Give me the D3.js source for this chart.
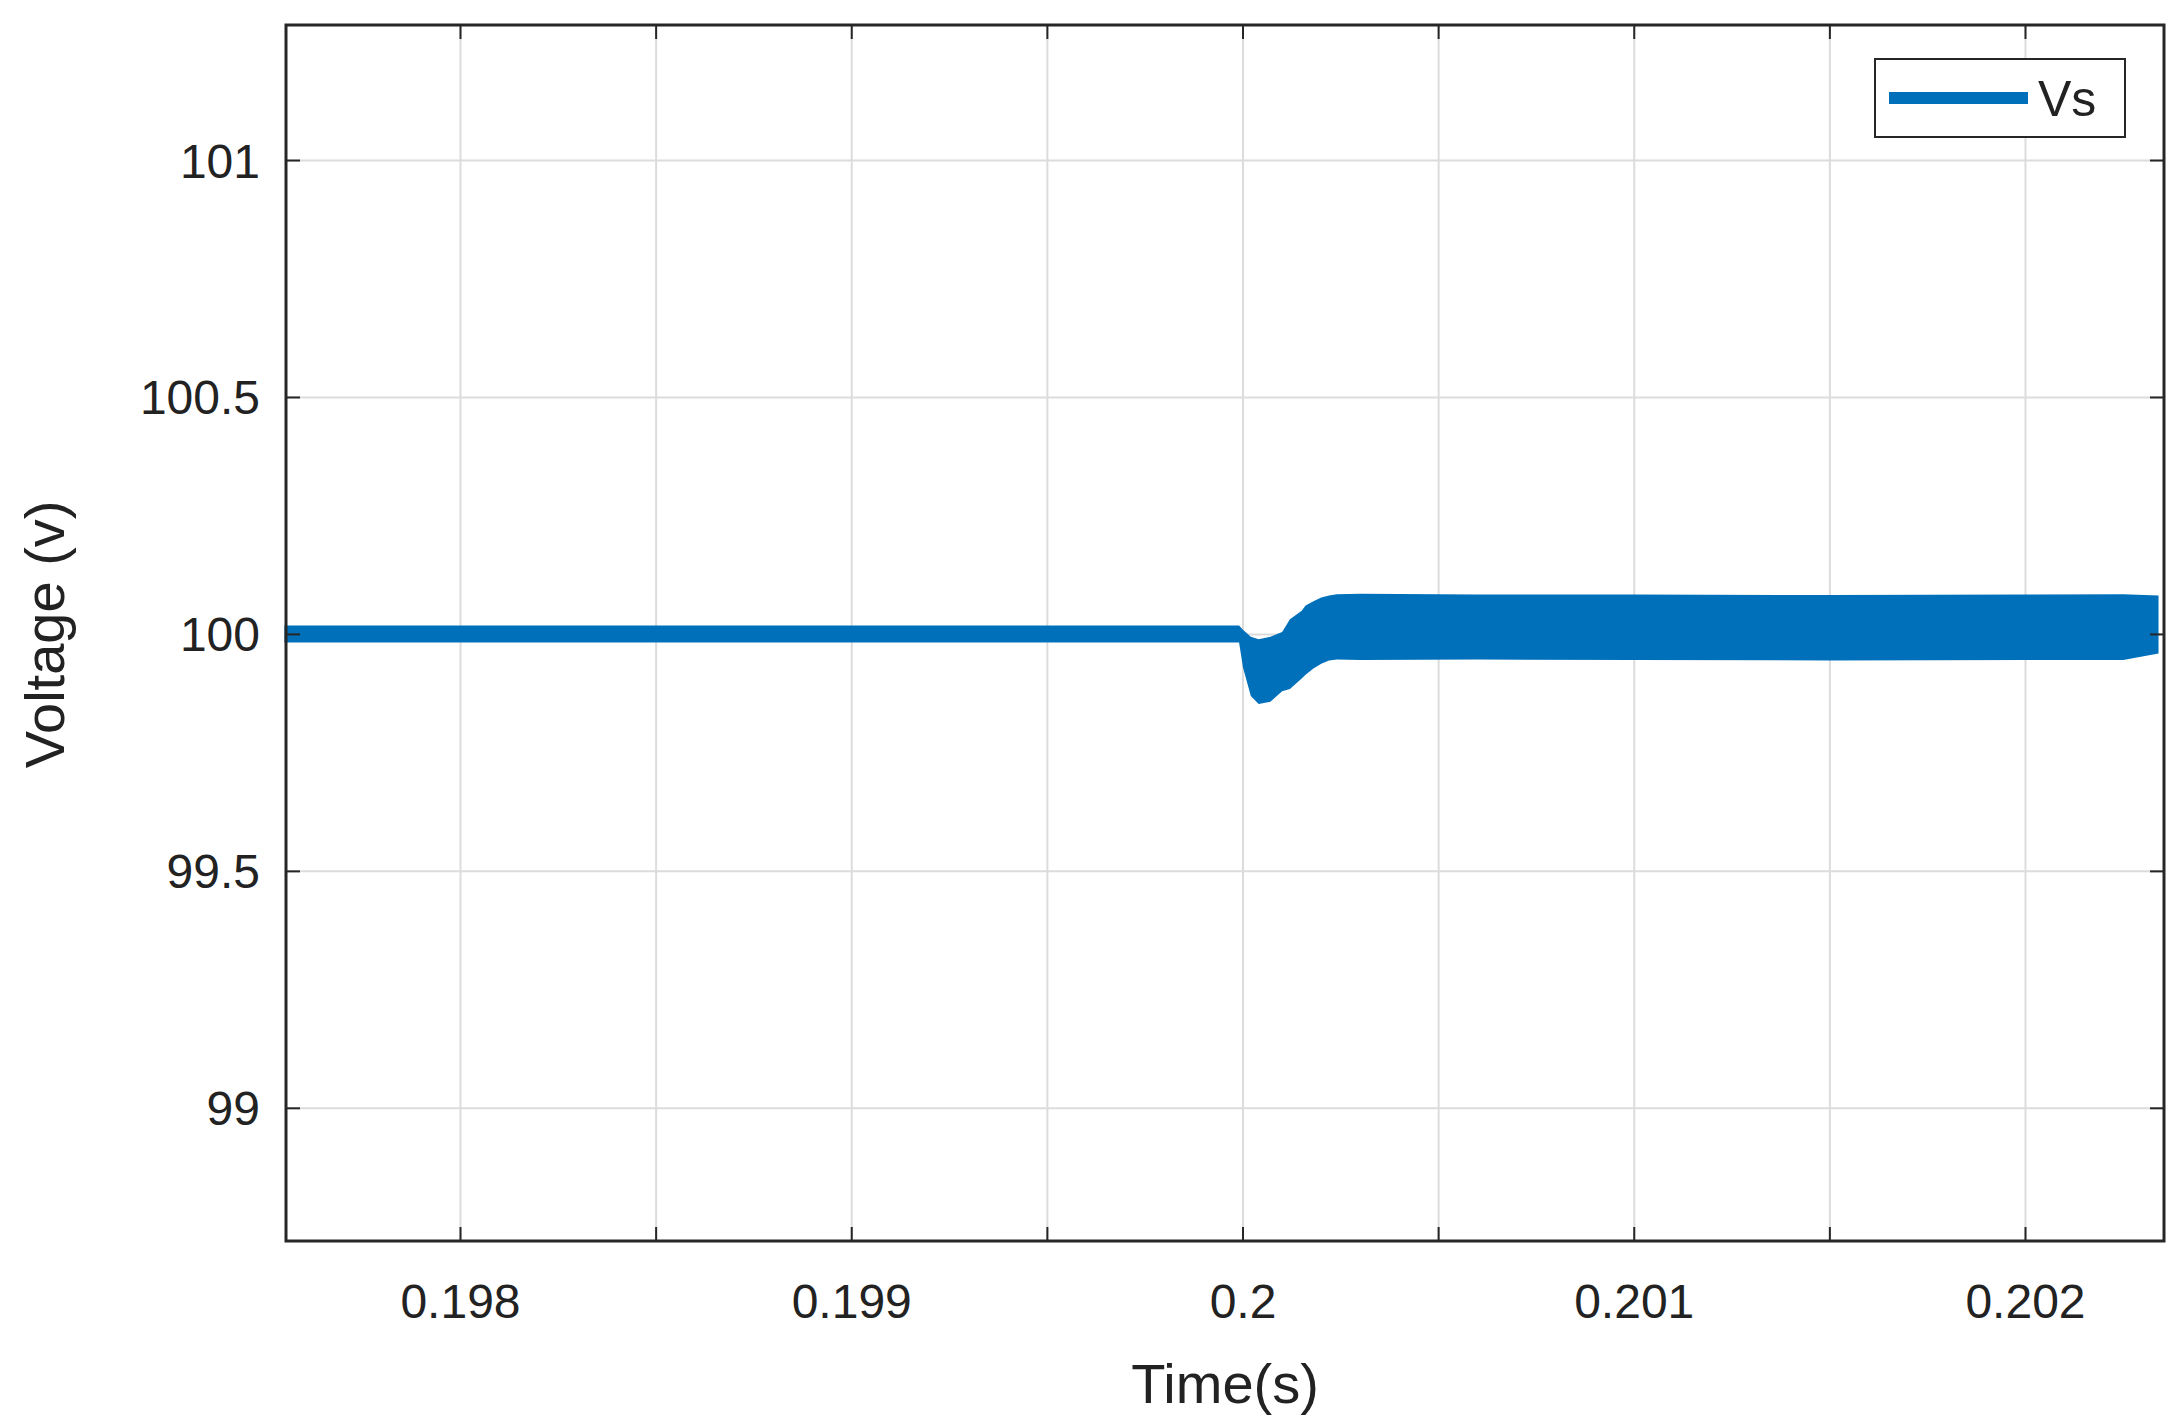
<!DOCTYPE html>
<html>
<head>
<meta charset="utf-8">
<script src="https://cdn.jsdelivr.net/npm/d3@7"></script>
<style>
  body { margin: 0; background: #fff; }
  text { font-family: "Liberation Sans", Arial, sans-serif; fill: #222; }
</style>
</head>
<body>
<svg id="chart" width="2180" height="1427"></svg>
<script>
// envelope of the Vs ripple band (time s, upper / lower edge in V)
const envTime  = [0.19755, 0.19999, 0.20000, 0.20002, 0.20004, 0.20007, 0.20010, 0.20012, 0.20015, 0.20016, 0.20018, 0.20020, 0.20022, 0.20024, 0.20030, 0.20060, 0.20100, 0.20150, 0.20200, 0.20225, 0.20234];
const envUpper = [100.019, 100.019, 100.010, 99.995, 99.990, 99.995, 100.005, 100.032, 100.050, 100.061, 100.070, 100.078, 100.082, 100.085, 100.086, 100.084, 100.084, 100.083, 100.084, 100.085, 100.082];
const envLower = [99.983, 99.983, 99.930, 99.870, 99.853, 99.858, 99.880, 99.885, 99.907, 99.915, 99.928, 99.938, 99.945, 99.947, 99.946, 99.947, 99.946, 99.945, 99.946, 99.946, 99.960];

const xTicks = [0.198, 0.199, 0.2, 0.201, 0.202];
const xGrid = [0.1975, 0.198, 0.1985, 0.199, 0.1995, 0.2, 0.2005, 0.201, 0.2015, 0.202];
const yTicks = [99, 99.5, 100, 100.5, 101];

const svg = d3.select('#chart');
const mLeft = 286, mRight = 2164, mTop = 25, mBottom = 1241;

const x = d3.scaleLinear().domain([0.197554, 0.202354]).range([mLeft, mRight]);
const y = d3.scaleLinear().domain([98.72, 101.286]).range([mBottom, mTop]);

// grid
svg.append('g').selectAll('line').data(xGrid.filter(d => x(d) > mLeft)).enter().append('line')
  .attr('x1', d => x(d)).attr('x2', d => x(d)).attr('y1', mTop).attr('y2', mBottom)
  .attr('stroke', '#dcdcdc').attr('stroke-width', 2);
svg.append('g').selectAll('line').data(yTicks).enter().append('line')
  .attr('x1', mLeft).attr('x2', mRight).attr('y1', d => y(d)).attr('y2', d => y(d))
  .attr('stroke', '#dcdcdc').attr('stroke-width', 2);

// signal band
const area = d3.area()
  .x((d, i) => x(envTime[i]))
  .y0((d, i) => y(envLower[i]))
  .y1((d, i) => y(envUpper[i]));
svg.append('path').datum(envTime).attr('d', area).attr('fill', '#0070bb');

// ticks inside the box on all four sides
const tl = 14;
xGrid.filter(d => x(d) > mLeft).forEach(d => {
  svg.append('line').attr('x1', x(d)).attr('x2', x(d)).attr('y1', mBottom).attr('y2', mBottom - tl).attr('stroke', '#262626').attr('stroke-width', 2);
  svg.append('line').attr('x1', x(d)).attr('x2', x(d)).attr('y1', mTop).attr('y2', mTop + tl).attr('stroke', '#262626').attr('stroke-width', 2);
});
yTicks.forEach(d => {
  svg.append('line').attr('x1', mLeft).attr('x2', mLeft + tl).attr('y1', y(d)).attr('y2', y(d)).attr('stroke', '#262626').attr('stroke-width', 2);
  svg.append('line').attr('x1', mRight).attr('x2', mRight - tl).attr('y1', y(d)).attr('y2', y(d)).attr('stroke', '#262626').attr('stroke-width', 2);
});

svg.append('rect').attr('x', mLeft).attr('y', mTop).attr('width', mRight - mLeft).attr('height', mBottom - mTop)
  .attr('fill', 'none').attr('stroke', '#262626').attr('stroke-width', 3);

// tick labels
svg.append('g').selectAll('text').data(xTicks).enter().append('text')
  .attr('x', d => x(d)).attr('y', 1318).attr('text-anchor', 'middle')
  .attr('font-size', 48).text(d => d3.format('')(d));
svg.append('g').selectAll('text').data(yTicks).enter().append('text')
  .attr('x', 260).attr('y', d => y(d) + 17).attr('text-anchor', 'end')
  .attr('font-size', 48).text(d => d3.format('')(d));

// axis titles
svg.append('text').attr('x', (mLeft + mRight) / 2).attr('y', 1403).attr('text-anchor', 'middle')
  .attr('font-size', 56).text('Time(s)');
svg.append('text').attr('transform', `translate(64,${y(100)}) rotate(-90)`).attr('text-anchor', 'middle')
  .attr('font-size', 56).text('Voltage (v)');

// legend
svg.append('rect').attr('x', 1875).attr('y', 59).attr('width', 250).attr('height', 78)
  .attr('fill', '#fff').attr('stroke', '#262626').attr('stroke-width', 2);
svg.append('line').attr('x1', 1889).attr('x2', 2028).attr('y1', 98).attr('y2', 98)
  .attr('stroke', '#0070bb').attr('stroke-width', 12);
svg.append('text').attr('x', 2038).attr('y', 116).attr('font-size', 50).text('Vs');
</script>
</body>
</html>
